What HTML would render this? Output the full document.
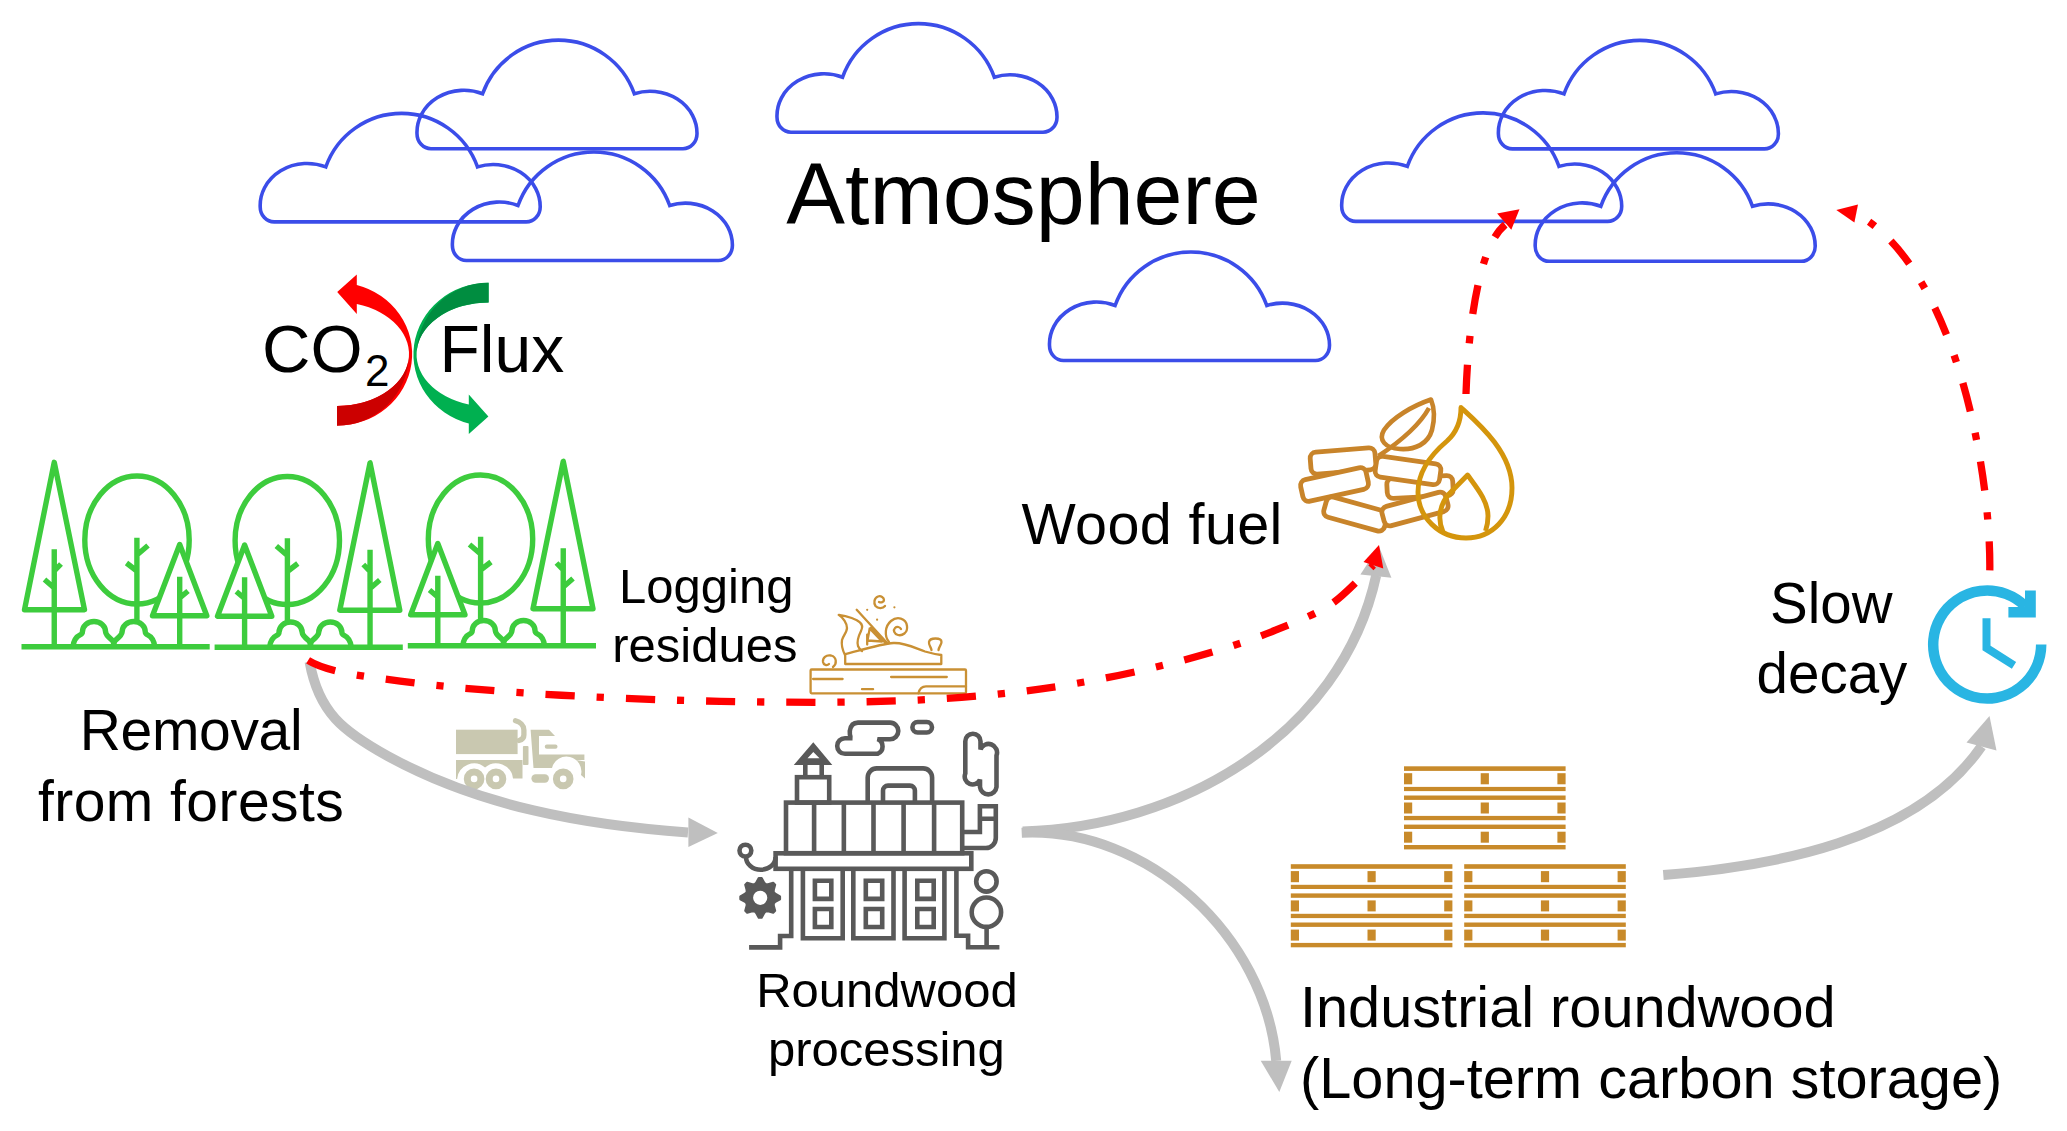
<!DOCTYPE html>
<html><head><meta charset="utf-8">
<style>
html,body{margin:0;padding:0;background:#fff;width:2067px;height:1131px;overflow:hidden}
svg{position:absolute;left:0;top:0;display:block}
text{font-family:"Liberation Sans",sans-serif;fill:#000}
</style></head><body>
<svg width="2067" height="1131" viewBox="0 0 2067 1131">


<!-- clouds -->
<g fill="none" stroke="#3b4de9" stroke-width="3.6">
 <g transform="translate(260.2,221.9)"><path d="M14,0 L266,0 A14 15 0 0 0 280,-15 A47 42 0 0 0 217.3,-55 A80.5 80.5 0 0 0 65.6,-55 A47 42 0 0 0 0,-15 A14 15 0 0 0 14,0 Z"/></g>
 <g transform="translate(417,148.7)"><path d="M14,0 L266,0 A14 15 0 0 0 280,-15 A47 42 0 0 0 217.3,-55 A80.5 80.5 0 0 0 65.6,-55 A47 42 0 0 0 0,-15 A14 15 0 0 0 14,0 Z"/></g>
 <g transform="translate(452.4,260.5)"><path d="M14,0 L266,0 A14 15 0 0 0 280,-15 A47 42 0 0 0 217.3,-55 A80.5 80.5 0 0 0 65.6,-55 A47 42 0 0 0 0,-15 A14 15 0 0 0 14,0 Z"/></g>
 <g transform="translate(777,132.2)"><path d="M14,0 L266,0 A14 15 0 0 0 280,-15 A47 42 0 0 0 217.3,-55 A80.5 80.5 0 0 0 65.6,-55 A47 42 0 0 0 0,-15 A14 15 0 0 0 14,0 Z"/></g>
 <g transform="translate(1049.5,360.5)"><path d="M14,0 L266,0 A14 15 0 0 0 280,-15 A47 42 0 0 0 217.3,-55 A80.5 80.5 0 0 0 65.6,-55 A47 42 0 0 0 0,-15 A14 15 0 0 0 14,0 Z"/></g>
 <g transform="translate(1341.7,221.4)"><path d="M14,0 L266,0 A14 15 0 0 0 280,-15 A47 42 0 0 0 217.3,-55 A80.5 80.5 0 0 0 65.6,-55 A47 42 0 0 0 0,-15 A14 15 0 0 0 14,0 Z"/></g>
 <g transform="translate(1498.4,148.9)"><path d="M14,0 L266,0 A14 15 0 0 0 280,-15 A47 42 0 0 0 217.3,-55 A80.5 80.5 0 0 0 65.6,-55 A47 42 0 0 0 0,-15 A14 15 0 0 0 14,0 Z"/></g>
 <g transform="translate(1535.2,261.3)"><path d="M14,0 L266,0 A14 15 0 0 0 280,-15 A47 42 0 0 0 217.3,-55 A80.5 80.5 0 0 0 65.6,-55 A47 42 0 0 0 0,-15 A14 15 0 0 0 14,0 Z"/></g>
</g>

<text x="786.3" y="224" font-size="88">Atmosphere</text>

<!-- CO2 flux -->
<g>
 <path fill="#ff0000" d="M337,406 A72 52 0 0 0 356.8,304 L356.8,314 L337.2,292 L356.8,274.5 L356.8,284.9 A75 71.6 0 0 1 337,425.6 Z"/>
 <path fill="#cc0000" d="M337,406 A72 52 0 0 0 409,354 A72 71.9 0 0 1 337,425.7 Z"/>
</g>
<g transform="rotate(180 412.8 354.2)">
 <path fill="#00b050" d="M337,406 A72 52 0 0 0 356.8,304 L356.8,314 L337.2,292 L356.8,274.5 L356.8,284.9 A75 71.6 0 0 1 337,425.6 Z"/>
 <path fill="#008d40" d="M337,406 A72 52 0 0 0 409,354 A72 71.9 0 0 1 337,425.7 Z"/>
</g>
<text x="262.1" y="372.2" font-size="67">CO</text>
<text x="365" y="386.4" font-size="44">2</text>
<text x="439.5" y="372.4" font-size="66">Flux</text>

<!-- forests -->
<g>
 <g fill="none" stroke="#3dcc3d" stroke-width="5.4" stroke-linejoin="round">
  <path d="M21.5,646.8 H209.7"/>
  <ellipse cx="137" cy="540" rx="52.2" ry="64"/>
  <path d="M136.9,537.8 V622 M136.9,555 L148,545.5 M136.9,571 L126.5,563"/>
  <path d="M73,646.6 C73.6,640.5 76.5,636.5 80.5,634.6 C82,633.8 82.4,633 82.4,632 A11.6 10.5 0 0 1 105.6,632 C105.8,635 109,637.5 112,640 C113.2,641 113.9,642.5 113.9,646.6 M154.7,646.6 C154.1,640.5 151.2,636.5 147.2,634.6 C145.7,633.8 145.3,633 145.3,632 A11.6 10.5 0 0 0 122.1,632 C121.9,635 118.7,637.5 115.7,640 C114.5,641 113.8,642.5 113.8,646.6"/>
  <path d="M24.5,609.7 L54.25,462.3 L84.5,609.7 Z"/>
  <path d="M54.25,549.3 V646.8 M54.25,571 L61,564 M54.25,588 L44.5,579.5"/>
  <path d="M152.5,615.7 L179.7,544.5 L206.8,615.7 Z" fill="#fff"/>
  <path d="M179.7,576.8 V646.8 M179.7,598 L188,591"/>
 </g>
</g>
<g transform="translate(424.3,0.5) scale(-1,1)">
 <g fill="none" stroke="#3dcc3d" stroke-width="5.4" stroke-linejoin="round">
  <path d="M21.5,646.8 H209.7"/>
  <ellipse cx="137" cy="540" rx="52.2" ry="64"/>
  <path d="M136.9,537.8 V622 M136.9,555 L148,545.5 M136.9,571 L126.5,563"/>
  <path d="M73,646.6 C73.6,640.5 76.5,636.5 80.5,634.6 C82,633.8 82.4,633 82.4,632 A11.6 10.5 0 0 1 105.6,632 C105.8,635 109,637.5 112,640 C113.2,641 113.9,642.5 113.9,646.6 M154.7,646.6 C154.1,640.5 151.2,636.5 147.2,634.6 C145.7,633.8 145.3,633 145.3,632 A11.6 10.5 0 0 0 122.1,632 C121.9,635 118.7,637.5 115.7,640 C114.5,641 113.8,642.5 113.8,646.6"/>
  <path d="M24.5,609.7 L54.25,462.3 L84.5,609.7 Z"/>
  <path d="M54.25,549.3 V646.8 M54.25,571 L61,564 M54.25,588 L44.5,579.5"/>
  <path d="M152.5,615.7 L179.7,544.5 L206.8,615.7 Z" fill="#fff"/>
  <path d="M179.7,576.8 V646.8 M179.7,598 L188,591"/>
 </g>
</g>
<g transform="translate(617.5,-1) scale(-1,1)">
 <g fill="none" stroke="#3dcc3d" stroke-width="5.4" stroke-linejoin="round">
  <path d="M21.5,646.8 H209.7"/>
  <ellipse cx="137" cy="540" rx="52.2" ry="64"/>
  <path d="M136.9,537.8 V622 M136.9,555 L148,545.5 M136.9,571 L126.5,563"/>
  <path d="M73,646.6 C73.6,640.5 76.5,636.5 80.5,634.6 C82,633.8 82.4,633 82.4,632 A11.6 10.5 0 0 1 105.6,632 C105.8,635 109,637.5 112,640 C113.2,641 113.9,642.5 113.9,646.6 M154.7,646.6 C154.1,640.5 151.2,636.5 147.2,634.6 C145.7,633.8 145.3,633 145.3,632 A11.6 10.5 0 0 0 122.1,632 C121.9,635 118.7,637.5 115.7,640 C114.5,641 113.8,642.5 113.8,646.6"/>
  <path d="M24.5,609.7 L54.25,462.3 L84.5,609.7 Z"/>
  <path d="M54.25,549.3 V646.8 M54.25,571 L61,564 M54.25,588 L44.5,579.5"/>
  <path d="M152.5,615.7 L179.7,544.5 L206.8,615.7 Z" fill="#fff"/>
  <path d="M179.7,576.8 V646.8 M179.7,598 L188,591"/>
 </g>
</g>

<!-- labels -->
<text x="619" y="603.3" font-size="49">Logging</text>
<text x="612.2" y="662" font-size="49">residues</text>
<text x="79.7" y="750" font-size="57" textLength="222.9" lengthAdjust="spacing">Removal</text>
<text x="37.9" y="821" font-size="57" textLength="305.9" lengthAdjust="spacing">from forests</text>
<text x="1021.5" y="544" font-size="57.5" textLength="260.9" lengthAdjust="spacing">Wood fuel</text>
<text x="1770.1" y="622.5" font-size="56.5">Slow</text>
<text x="1756.6" y="693" font-size="56.5">decay</text>
<text x="756.2" y="1006.7" font-size="49">Roundwood</text>
<text x="767.9" y="1065.5" font-size="49">processing</text>
<text x="1300" y="1027" font-size="57.7">Industrial roundwood</text>
<text x="1300" y="1098" font-size="57.7">(Long-term carbon storage)</text>

<!-- pallets -->
<g transform="translate(1404,766.3)" fill="#c88a2a">
 <rect x="0" y="0" width="161.6" height="4.6"/><rect x="0" y="6.9" width="8.2" height="11.1"/><rect x="76.7" y="6.9" width="8.2" height="11.1"/><rect x="153.4" y="6.9" width="8.2" height="11.1"/><rect x="0" y="20.6" width="161.6" height="4.2"/>
 <rect x="0" y="29.2" width="161.6" height="4.4"/><rect x="0" y="36.2" width="8.2" height="11"/><rect x="76.7" y="36.2" width="8.2" height="11"/><rect x="153.4" y="36.2" width="8.2" height="11"/><rect x="0" y="49.6" width="161.6" height="4.3"/>
 <rect x="0" y="58.3" width="161.6" height="4.4"/><rect x="0" y="65.4" width="8.2" height="11"/><rect x="76.7" y="65.4" width="8.2" height="11"/><rect x="153.4" y="65.4" width="8.2" height="11"/><rect x="0" y="78.7" width="161.6" height="4.4"/>
</g>
<g transform="translate(1290.8,864.2)" fill="#c88a2a">
 <rect x="0" y="0" width="161.6" height="4.6"/><rect x="0" y="6.9" width="8.2" height="11.1"/><rect x="76.7" y="6.9" width="8.2" height="11.1"/><rect x="153.4" y="6.9" width="8.2" height="11.1"/><rect x="0" y="20.6" width="161.6" height="4.2"/>
 <rect x="0" y="29.2" width="161.6" height="4.4"/><rect x="0" y="36.2" width="8.2" height="11"/><rect x="76.7" y="36.2" width="8.2" height="11"/><rect x="153.4" y="36.2" width="8.2" height="11"/><rect x="0" y="49.6" width="161.6" height="4.3"/>
 <rect x="0" y="58.3" width="161.6" height="4.4"/><rect x="0" y="65.4" width="8.2" height="11"/><rect x="76.7" y="65.4" width="8.2" height="11"/><rect x="153.4" y="65.4" width="8.2" height="11"/><rect x="0" y="78.7" width="161.6" height="4.4"/>
</g>
<g transform="translate(1464.2,864.2)" fill="#c88a2a">
 <rect x="0" y="0" width="161.6" height="4.6"/><rect x="0" y="6.9" width="8.2" height="11.1"/><rect x="76.7" y="6.9" width="8.2" height="11.1"/><rect x="153.4" y="6.9" width="8.2" height="11.1"/><rect x="0" y="20.6" width="161.6" height="4.2"/>
 <rect x="0" y="29.2" width="161.6" height="4.4"/><rect x="0" y="36.2" width="8.2" height="11"/><rect x="76.7" y="36.2" width="8.2" height="11"/><rect x="153.4" y="36.2" width="8.2" height="11"/><rect x="0" y="49.6" width="161.6" height="4.3"/>
 <rect x="0" y="58.3" width="161.6" height="4.4"/><rect x="0" y="65.4" width="8.2" height="11"/><rect x="76.7" y="65.4" width="8.2" height="11"/><rect x="153.4" y="65.4" width="8.2" height="11"/><rect x="0" y="78.7" width="161.6" height="4.4"/>
</g>


<!-- factory -->
<g fill="none" stroke="#595959" stroke-width="4.6">
 <path d="M813.3,742.2 L793.8,765 L832.3,765 Z M813.3,752 L807.5,758.2 L819.5,758.2 Z" fill="#595959" fill-rule="evenodd" stroke="none"/>
 <path d="M805.3,765 V777.2 M821.7,765 V777.2"/>
 <rect x="797" y="777.2" width="32.2" height="25.4"/>
 <rect x="786" y="802.6" width="176.2" height="50.6"/>
 <path d="M814.1,802.6 V853.2 M843.85,802.6 V853.2 M873.5,802.6 V853.2 M903.6,802.6 V853.2 M934.1,802.6 V853.2"/>
 <path d="M867.7,802.6 V777.4 A9 9 0 0 1 876.7,768.4 H923.1 A9 9 0 0 1 932.1,777.4 V802.6"/>
 <path d="M883,802.6 V790.6 A5 5 0 0 1 888,785.6 H909.9 A5 5 0 0 1 914.9,790.6 V802.6"/>
 <path d="M858,722.6 H890 A8.3 8.3 0 0 1 890,739.2 H877.5 A7.8 7.8 0 0 1 877.5,753.8 H845 A7.8 7.8 0 0 1 845,738.2 H852.5 Q849.5,738 849.8,731 Q851,722.6 858,722.6 Z"/>
 <rect x="912.4" y="722" width="19.6" height="10.5" rx="5.25"/>
 <path d="M965.3,741.3 A7.6 7.6 0 0 1 980.5,741.3 V749.5 A8.3 8.3 0 0 1 996.5,755.5 V787 A8.3 8.3 0 0 1 980,787 V779.5 A7.6 7.6 0 0 1 965.3,773.5 Z"/>
 <path d="M962.2,832 H979.9 V806.2 H995.8 V838 A10 10 0 0 1 985.8,848 H962.2 M979.9,818.8 H995.8"/>
 <rect x="775.6" y="853.3" width="195.7" height="15.5"/>
 <circle cx="745.4" cy="850.6" r="5.9"/>
 <path d="M746,857 A14.5 12.5 0 0 0 775.6,857"/>
 <path d="M791.2,868.7 V936 H780.1 V947.4 H749.1"/>
 <path d="M802.9,868.7 V938.3 H842.7 V868.7 M853.3,868.7 V938.3 H893.5 V868.7 M904.6,868.7 V938.3 H944.4 V868.7"/>
 <path d="M814.9,880.8 h16.4 v18.1 h-16.4 Z M814.9,909 h16.4 v18 h-16.4 Z M865.8,880.8 h16.4 v18.1 h-16.4 Z M865.8,909 h16.4 v18 h-16.4 Z M917.3,880.8 h16.4 v18.1 h-16.4 Z M917.3,909 h16.4 v18 h-16.4 Z"/>
 <path d="M956.4,868.7 V935.7 H968.1 V947.3 H999.4"/>
 <circle cx="986.4" cy="881.4" r="10.2"/>
 <circle cx="986.4" cy="912.2" r="14.7"/>
 <path d="M986.6,926.9 V947.3"/>
 <path fill="#595959" stroke="#595959" stroke-width="2.2" stroke-linejoin="round" fill-rule="evenodd" d="M754.6,884.3 L756.2,882.7 L758.8,878.0 L761.6,878.0 L764.2,882.7 L765.8,884.3 L768.0,884.3 L773.2,882.9 L775.1,884.8 L773.7,890.0 L773.7,892.2 L775.3,893.8 L780.0,896.4 L780.0,899.2 L775.3,901.8 L773.7,903.4 L773.7,905.6 L775.1,910.8 L773.2,912.7 L768.0,911.3 L765.8,911.3 L764.2,912.9 L761.6,917.6 L758.8,917.6 L756.2,912.9 L754.6,911.3 L752.4,911.3 L747.2,912.7 L745.3,910.8 L746.7,905.6 L746.7,903.4 L745.1,901.8 L740.4,899.2 L740.4,896.4 L745.1,893.8 L746.7,892.2 L746.7,890.0 L745.3,884.8 L747.2,882.9 L752.4,884.3 Z M752.0,897.8 a8.2,8.2 0 1 0 16.4,0 a8.2,8.2 0 1 0 -16.4,0 Z"/>
</g>

<!-- wood fuel -->
<g fill="#fff" stroke="#c8842a" stroke-width="4.8">
 <rect x="1387.0" y="477.0" width="66.0" height="20.0" rx="6.0" transform="rotate(-3.0 1420.0 487.0)"/>
 <rect x="1375.5" y="460.0" width="65.0" height="21.0" rx="6.0" transform="rotate(8.0 1408.0 470.5)"/>
 <rect x="1310.5" y="450.0" width="65.0" height="22.0" rx="6.0" transform="rotate(-4.5 1343.0 461.0)"/>
 <rect x="1301.0" y="473.5" width="67.0" height="22.0" rx="6.0" transform="rotate(-12.5 1334.5 484.5)"/>
 <rect x="1324.0" y="503.5" width="63.0" height="21.0" rx="6.0" transform="rotate(15.5 1355.5 514.0)"/>
 <rect x="1382.0" y="499.0" width="66.0" height="20.0" rx="6.0" transform="rotate(-15.0 1415.0 509.0)"/>
</g>
<g fill="none" stroke="#c8842a" stroke-width="4.6" stroke-linejoin="round">
 <path d="M1431,399.5 C1412,406 1392,418 1384,430 C1378,440 1385,448 1400,449 C1415,450 1428,444 1432,430 C1435,418 1434,407 1431,399.5 Z"/>
 <path d="M1378.5,456 C1392,447 1418,428 1429,408"/>
</g>
<g fill="none" stroke="#d4950c" stroke-width="4.9" stroke-linejoin="round">
 <path d="M1461,407.5 C1478,423 1512,452 1512,488 C1512,518 1492,538 1466,538 C1439,538 1418,517 1418,492 C1418,469 1434,452 1447,441 C1457,432 1461,421 1461,407.5 Z"/>
 <path d="M1443,532 C1437,519 1440,504 1449,494 L1467.6,475 C1477,488 1488,501 1488,516 C1488,522 1487,527 1485.5,531"/>
</g>

<!-- plane -->
<g fill="none" stroke="#c99034" stroke-width="2.3" stroke-linejoin="round" stroke-linecap="round">
 <rect x="810.6" y="669.5" width="155.4" height="23.8" rx="1"/>
 <path d="M813.1,679 H842.6 M891.1,677 H946.8 M862,689.2 H873.1 M918.5,693.3 C919.5,688.5 921.5,686.3 926,686.3 H966"/>
 <path d="M845.2,654.1 V664 H941.3 V655 C937,654.5 932,653.5 925,651.5 C915,648 905,642.5 893.5,643 C880,644 858,651 845.2,654.1"/>
 <path d="M845,655 C843,651 841,646 842,640 C843,636 847,632 847,628 C847,623 843,617.5 838.7,614.8 C848,616 857,619.5 860,622.5 C863,625 862.5,628 861,631 C858.5,636 856.5,641 858,646 C859,648.5 860.5,650 862,651"/>
 <path d="M856.7,609.8 L887.6,643.5 M870.5,628 L886,643.5 M867.2,634.6 V644.5 M869.7,628.4 L867.5,640.5 L882,641.5 Z"/>
 <path d="M931.5,650 C931,647 928.5,645 929,642 C929.5,639 933,638.5 935.5,638.5 C938.5,638.5 941.5,639.5 941.5,642 C941.5,644.5 939,646.5 938.5,650"/>
 <path d="M889,642 C884,636 885,626 891,621 C897,616 906,618 907,626 C908,633 902,636 898,635 C894,634 893,630 895,628 C897,626 900,627 901,629"/>
 <path d="M885,606 C883,608.5 878,609 875.5,606 C873.5,603 874,598 878,596.5 C881,595.5 884,597.5 884,600 C884,602 881,603 879,602"/>
 <path d="M833,667 C837,664 837,657 831,655.5 C826,654.5 822.5,658 823,662 C823.5,665 827,666 829,664"/>
</g>
<g fill="#c99034"><circle cx="867.2" cy="609.8" r="1.1"/><circle cx="877.1" cy="619.7" r="1.1"/><circle cx="894.4" cy="607.3" r="1.1"/></g>

<!-- truck -->
<g fill="#c9c8b0">
 <rect x="456" y="729.7" width="61.6" height="24.4"/>
 <path d="M515.5,720.8 C520,722 523.9,725.5 523.9,730 V735 C523.9,738 522,739.8 519,740.5" fill="none" stroke="#c9c8b0" stroke-width="5.3" stroke-linecap="round"/>
 <path d="M456,760.1 H522.5 V778.5 H513 A17 17 0 0 0 485.05,767.5 A17 17 0 0 0 457.1,778.9 H456 Z"/>
 <rect x="522.9" y="746" width="5.6" height="19" rx="1"/>
 <path d="M530.6,729.7 H549 L555,736 H539 V754.5 H584.4 V760.1 H576 L585,761.5 V778.5 L581,775 A14 14 0 0 0 552,768 H533.5 Z"/>
 <rect x="544.8" y="744.5" width="12.7" height="4.3" rx="2"/>
 <rect x="531.4" y="774.3" width="17.6" height="8.4" rx="4.2"/>
</g>
<g fill="none" stroke="#c9c8b0" stroke-width="7">
 <circle cx="474.1" cy="778.9" r="6.8"/><circle cx="496" cy="778.9" r="6.8"/><circle cx="563.2" cy="778.9" r="6.8"/>
</g>

<!-- gray arrows -->
<g fill="none" stroke="#bfbfbf" stroke-width="10">
 <path d="M309.6,661.9 C318.6,712.6 343.5,731.7 387.8,756.1 C479.5,806.5 584.9,825.2 688,832.5"/>
 <path d="M1022.6,831.4 C1177.9,827.8 1341.1,736.5 1376.2,575.4"/>
 <path d="M1021.7,832.8 C1148.4,826.6 1265.7,936.5 1276.2,1060.8"/>
 <path d="M1663.3,875 C1770.7,866.5 1915.7,841.7 1981.5,746.4"/>
</g>
<g fill="#bfbfbf">
 <path d="M717.8,832.9 L688.4,817.6 L688.4,847 Z"/>
 <path d="M1378.9,546.3 L1360.4,574.6 L1391.4,577.7 Z"/>
 <path d="M1279.3,1091.9 L1260.7,1060.8 L1291.7,1060.8 Z"/>
 <path d="M1989.5,715.9 L1966.5,742.4 L1996.5,750.4 Z"/>
</g>

<!-- red dashed arrows -->
<g fill="none" stroke="#ff0000" stroke-width="7.3" stroke-dasharray="29.2 21.9 7.3 21.9">
 <path d="M308.1,660.4 C328.1,672.9 370.2,677.1 400.2,681.1 C490.5,693.3 628.6,699.6 720.5,701.3 C827.3,703.3 935.4,703.7 1041.4,688.9 C1111.5,679.1 1210.1,657.2 1275.5,630.2 C1334.8,605.8 1329.2,608.9 1373.4,565.2"/>
 <path d="M1466,394 C1467.3,354.2 1473.8,250.6 1505.2,224.6"/>
 <path d="M1989.8,570.4 C1990.9,467.6 1954,267.7 1856.2,213.5"/>
</g>
<g fill="#ff0000">
 <path d="M1379,544.9 L1363.5,561.9 L1383.3,568.4 Z"/>
 <path d="M1519.5,209.3 L1497.1,213.4 L1511.3,229.7 Z"/>
 <path d="M1836.3,209.9 L1858,204.5 L1854.4,222.6 Z"/>
</g>

<!-- clock -->
<g>
 <path d="M2041.2,644.6 A54 54 0 1 1 2025.4,606.4" fill="none" stroke="#29b5e3" stroke-width="10.5"/>
 <path d="M2025,590.6 H2035.8 V617.6 H2008.4 V607 H2025 Z" fill="#29b5e3"/>
 <path d="M1986.5,618.2 V648 L2014,665.3" fill="none" stroke="#29b5e3" stroke-width="8"/>
</g>

</svg>
</body></html>
